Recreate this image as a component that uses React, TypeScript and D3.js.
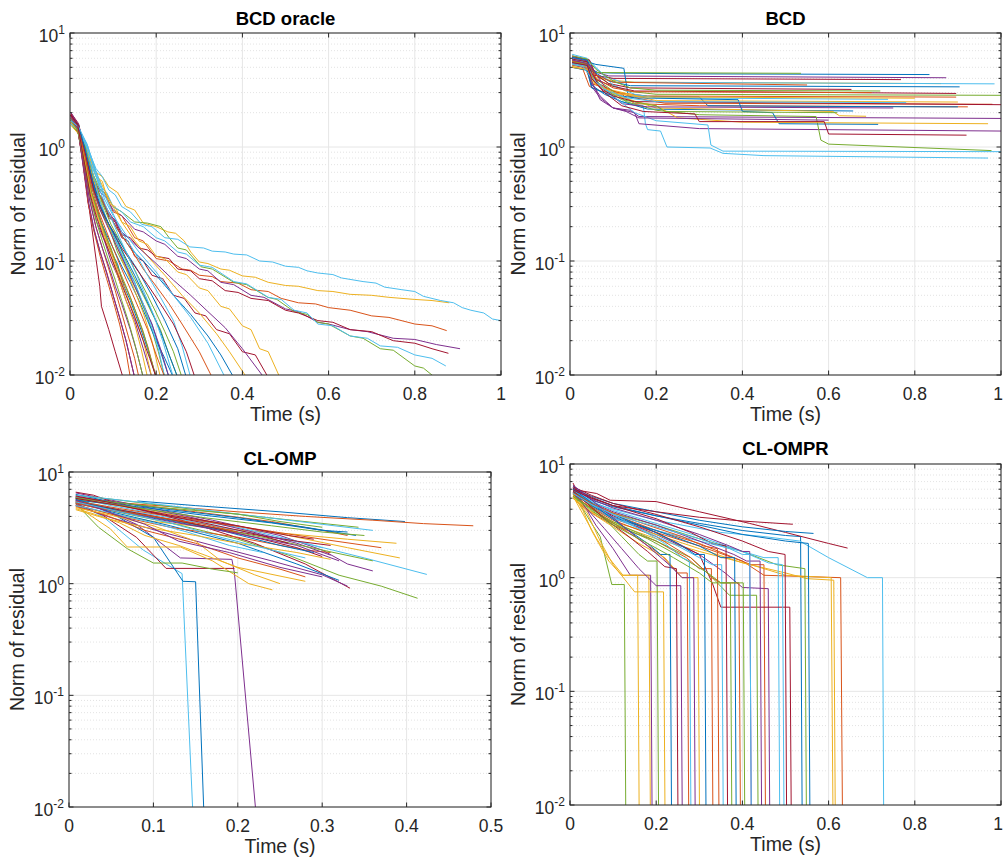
import React from 'react';
import * as d3 from 'd3';

const COLORS = ['#0072BD', '#D95319', '#EDB120', '#7E2F8E', '#77AC30', '#4DBEEE', '#A2142F'];
const FONT = '"Liberation Sans", Arial, Helvetica, sans-serif';

const panelTitles = ['BCD oracle', 'BCD', 'CL-OMP', 'CL-OMPR'];
const xTicksUnit = [0, 0.2, 0.4, 0.6, 0.8, 1];
const xTicksHalf = [0, 0.1, 0.2, 0.3, 0.4, 0.5];
const yDecades = [-2, -1, 0, 1];
const xLabel = 'Time (s)';
const yLabel = 'Norm of residual';

// ---- BCD oracle: [time, residual] per run ----
const bcdOracleRuns: number[][][] = [
  [[0.002,1.85],[0.018,1.5],[0.032,0.9],[0.048,0.42],[0.065,0.27],[0.08,0.17],[0.095,0.12],[0.11,0.095],[0.125,0.06],[0.14,0.045],[0.16,0.028],[0.18,0.017],[0.2,0.0095]],
  [[0.002,1.9],[0.02,1.5],[0.04,0.8],[0.06,0.45],[0.08,0.4],[0.1,0.27],[0.12,0.25],[0.15,0.16],[0.17,0.15],[0.2,0.105],[0.23,0.1],[0.26,0.085],[0.28,0.083],[0.3,0.075],[0.33,0.073],[0.35,0.066],[0.39,0.064],[0.42,0.056],[0.46,0.054],[0.49,0.047],[0.53,0.043],[0.57,0.042],[0.6,0.039],[0.65,0.037],[0.7,0.033],[0.74,0.032],[0.8,0.028],[0.84,0.027],[0.874,0.0245]],
  [[0.002,1.7],[0.02,1.45],[0.04,0.9],[0.06,0.6],[0.075,0.55],[0.09,0.45],[0.11,0.4],[0.13,0.3],[0.15,0.28],[0.17,0.215],[0.2,0.2],[0.227,0.18],[0.245,0.175],[0.265,0.15],[0.28,0.12],[0.3,0.098],[0.32,0.095],[0.35,0.085],[0.37,0.083],[0.4,0.074],[0.43,0.072],[0.46,0.065],[0.5,0.061],[0.53,0.06],[0.575,0.055],[0.61,0.054],[0.65,0.051],[0.7,0.05],[0.74,0.048],[0.8,0.046],[0.84,0.045],[0.88,0.043]],
  [[0.002,1.8],[0.02,1.4],[0.04,0.7],[0.07,0.4],[0.085,0.36],[0.1,0.28],[0.12,0.25],[0.15,0.19],[0.17,0.18],[0.2,0.15],[0.22,0.14],[0.25,0.11],[0.27,0.105],[0.3,0.085],[0.32,0.082],[0.35,0.065],[0.38,0.062],[0.42,0.05],[0.45,0.048],[0.5,0.038],[0.53,0.036],[0.575,0.029],[0.6,0.028],[0.65,0.025],[0.69,0.024],[0.75,0.021],[0.8,0.0205],[0.85,0.0185],[0.905,0.017]],
  [[0.002,1.6],[0.02,1.3],[0.04,0.75],[0.07,0.42],[0.085,0.38],[0.1,0.3],[0.12,0.27],[0.15,0.22],[0.18,0.215],[0.211,0.2],[0.23,0.16],[0.25,0.13],[0.27,0.125],[0.304,0.089],[0.33,0.085],[0.38,0.065],[0.41,0.062],[0.459,0.048],[0.48,0.046],[0.52,0.036],[0.55,0.034],[0.575,0.029],[0.6,0.028],[0.65,0.022],[0.68,0.021],[0.72,0.017],[0.75,0.0165],[0.8,0.012],[0.82,0.0115],[0.847,0.0095]],
  [[0.002,1.8],[0.02,1.5],[0.04,1.0],[0.06,0.65],[0.075,0.55],[0.09,0.42],[0.105,0.38],[0.12,0.3],[0.14,0.27],[0.166,0.21],[0.19,0.2],[0.22,0.16],[0.25,0.155],[0.278,0.133],[0.31,0.13],[0.33,0.122],[0.36,0.12],[0.38,0.115],[0.41,0.113],[0.44,0.1],[0.47,0.098],[0.5,0.09],[0.53,0.088],[0.55,0.082],[0.575,0.0785],[0.61,0.076],[0.63,0.071],[0.68,0.066],[0.71,0.064],[0.73,0.059],[0.77,0.056],[0.8,0.054],[0.82,0.049],[0.86,0.045],[0.89,0.043],[0.91,0.039],[0.93,0.037],[0.96,0.035],[0.98,0.031],[1.0,0.03]],
  [[0.002,1.95],[0.02,1.5],[0.04,0.7],[0.06,0.4],[0.075,0.35],[0.09,0.25],[0.105,0.23],[0.12,0.17],[0.14,0.16],[0.16,0.13],[0.18,0.125],[0.2,0.11],[0.23,0.105],[0.25,0.085],[0.28,0.082],[0.3,0.07],[0.33,0.067],[0.36,0.055],[0.39,0.053],[0.42,0.047],[0.46,0.045],[0.5,0.037],[0.53,0.035],[0.575,0.03],[0.61,0.029],[0.65,0.025],[0.7,0.024],[0.75,0.02],[0.8,0.019],[0.84,0.017],[0.878,0.0155]],
  [[0.002,1.7],[0.018,1.45],[0.032,1.0],[0.05,0.5],[0.07,0.3],[0.09,0.2],[0.11,0.14],[0.13,0.09],[0.15,0.065],[0.17,0.04],[0.19,0.028],[0.21,0.016],[0.23,0.0095]],
  [[0.002,1.9],[0.018,1.5],[0.03,0.8],[0.045,0.35],[0.06,0.2],[0.075,0.13],[0.09,0.085],[0.105,0.055],[0.12,0.035],[0.135,0.022],[0.15,0.014],[0.16,0.0095]],
  [[0.002,1.75],[0.02,1.45],[0.04,0.9],[0.06,0.55],[0.075,0.5],[0.09,0.32],[0.105,0.3],[0.12,0.22],[0.14,0.2],[0.16,0.15],[0.18,0.14],[0.2,0.11],[0.22,0.105],[0.25,0.08],[0.27,0.076],[0.3,0.058],[0.32,0.055],[0.35,0.04],[0.37,0.038],[0.4,0.027],[0.42,0.025],[0.44,0.017],[0.46,0.016],[0.487,0.0095]],
  [[0.002,1.8],[0.018,1.4],[0.032,0.7],[0.048,0.35],[0.062,0.22],[0.08,0.15],[0.095,0.1],[0.11,0.075],[0.13,0.045],[0.15,0.03],[0.17,0.017],[0.19,0.0095]],
  [[0.002,1.6],[0.018,1.35],[0.035,0.8],[0.05,0.45],[0.07,0.28],[0.09,0.2],[0.11,0.12],[0.13,0.085],[0.15,0.06],[0.17,0.04],[0.19,0.025],[0.205,0.016],[0.22,0.0095]],
  [[0.002,1.75],[0.02,1.45],[0.04,0.85],[0.07,0.45],[0.085,0.4],[0.1,0.3],[0.12,0.27],[0.14,0.22],[0.17,0.2],[0.2,0.16],[0.22,0.15],[0.25,0.12],[0.27,0.115],[0.3,0.092],[0.33,0.088],[0.38,0.066],[0.41,0.063],[0.46,0.048],[0.49,0.046],[0.52,0.037],[0.55,0.035],[0.575,0.028],[0.61,0.027],[0.65,0.022],[0.69,0.021],[0.72,0.018],[0.76,0.0175],[0.8,0.015],[0.84,0.014],[0.872,0.012]],
  [[0.002,2.0],[0.02,1.6],[0.04,0.75],[0.06,0.4],[0.075,0.36],[0.09,0.24],[0.105,0.22],[0.12,0.16],[0.135,0.15],[0.15,0.11],[0.17,0.1],[0.19,0.075],[0.215,0.07],[0.24,0.05],[0.265,0.047],[0.29,0.035],[0.315,0.033],[0.34,0.025],[0.37,0.023],[0.4,0.016],[0.43,0.015],[0.46,0.0095]],
  [[0.002,1.8],[0.02,1.5],[0.04,0.85],[0.06,0.45],[0.08,0.3],[0.11,0.19],[0.14,0.13],[0.17,0.1],[0.2,0.075],[0.24,0.05],[0.28,0.034],[0.32,0.022],[0.35,0.015],[0.38,0.0095]],
  [[0.002,1.65],[0.018,1.4],[0.035,0.75],[0.05,0.4],[0.068,0.25],[0.085,0.16],[0.1,0.11],[0.12,0.07],[0.14,0.048],[0.16,0.03],[0.18,0.018],[0.2,0.0095]],
  [[0.002,1.7],[0.02,1.4],[0.04,0.95],[0.065,0.55],[0.09,0.35],[0.12,0.22],[0.15,0.15],[0.18,0.11],[0.22,0.075],[0.26,0.05],[0.3,0.035],[0.34,0.023],[0.37,0.016],[0.41,0.0095]],
  [[0.002,1.9],[0.02,1.55],[0.04,0.8],[0.06,0.42],[0.09,0.27],[0.12,0.18],[0.16,0.13],[0.2,0.095],[0.24,0.068],[0.28,0.05],[0.32,0.036],[0.36,0.026],[0.4,0.017],[0.45,0.0095]],
  [[0.002,1.75],[0.018,1.5],[0.035,0.9],[0.05,0.5],[0.07,0.3],[0.09,0.2],[0.11,0.15],[0.13,0.1],[0.15,0.07],[0.17,0.05],[0.19,0.035],[0.21,0.025],[0.23,0.015],[0.25,0.0095]],
  [[0.002,1.6],[0.02,1.4],[0.04,1.0],[0.06,0.6],[0.08,0.35],[0.1,0.25],[0.13,0.17],[0.16,0.12],[0.2,0.08],[0.24,0.05],[0.28,0.032],[0.32,0.019],[0.36,0.0095]],
  [[0.002,1.9],[0.02,1.3],[0.035,0.55],[0.045,0.28],[0.061,0.1],[0.069,0.06],[0.073,0.04],[0.09,0.025],[0.105,0.016],[0.123,0.0095]],
  [[0.002,1.9],[0.018,1.6],[0.032,0.85],[0.048,0.4],[0.065,0.25],[0.085,0.17],[0.1,0.13],[0.12,0.09],[0.14,0.065],[0.16,0.045],[0.18,0.03],[0.2,0.02],[0.22,0.014],[0.24,0.0095]],
  [[0.002,1.85],[0.02,1.5],[0.04,0.8],[0.06,0.45],[0.085,0.28],[0.11,0.19],[0.14,0.13],[0.17,0.085],[0.2,0.06],[0.23,0.042],[0.26,0.028],[0.3,0.016],[0.33,0.0095]],
  [[0.002,1.55],[0.02,1.3],[0.038,0.9],[0.055,0.5],[0.075,0.3],[0.09,0.2],[0.11,0.13],[0.13,0.085],[0.15,0.055],[0.17,0.035],[0.19,0.02],[0.21,0.0095]],
  [[0.002,2.0],[0.018,1.6],[0.03,0.8],[0.045,0.35],[0.06,0.2],[0.075,0.13],[0.09,0.09],[0.105,0.06],[0.12,0.042],[0.14,0.025],[0.155,0.016],[0.17,0.0095]],
  [[0.002,1.7],[0.02,1.45],[0.038,0.95],[0.055,0.55],[0.075,0.32],[0.095,0.21],[0.12,0.14],[0.14,0.1],[0.16,0.07],[0.18,0.05],[0.2,0.035],[0.22,0.024],[0.24,0.016],[0.26,0.0095]],
  [[0.002,1.65],[0.02,1.45],[0.04,1.05],[0.06,0.62],[0.08,0.38],[0.1,0.26],[0.12,0.18],[0.15,0.12],[0.18,0.075],[0.21,0.048],[0.24,0.03],[0.26,0.018],[0.28,0.0095]],
  [[0.002,1.95],[0.018,1.5],[0.03,0.7],[0.042,0.32],[0.055,0.19],[0.07,0.12],[0.085,0.08],[0.1,0.05],[0.115,0.032],[0.13,0.02],[0.15,0.0095]],
  [[0.002,1.8],[0.02,1.55],[0.036,0.9],[0.052,0.48],[0.07,0.3],[0.09,0.21],[0.11,0.16],[0.13,0.12],[0.16,0.08],[0.19,0.05],[0.22,0.03],[0.25,0.017],[0.27,0.0095]],
  [[0.002,1.7],[0.018,1.4],[0.03,0.75],[0.042,0.33],[0.056,0.18],[0.07,0.11],[0.085,0.07],[0.1,0.045],[0.115,0.028],[0.13,0.016],[0.14,0.0095]],
  [[0.002,1.8],[0.018,1.5],[0.032,0.85],[0.047,0.42],[0.062,0.25],[0.08,0.16],[0.095,0.11],[0.11,0.075],[0.13,0.045],[0.15,0.028],[0.165,0.017],[0.18,0.0095]],
  [[0.002,1.7],[0.02,1.45],[0.036,0.85],[0.052,0.45],[0.07,0.28],[0.09,0.19],[0.11,0.13],[0.13,0.09],[0.15,0.06],[0.17,0.042],[0.19,0.028],[0.21,0.017],[0.23,0.0095]],
  [[0.002,1.85],[0.018,1.5],[0.033,0.8],[0.05,0.4],[0.065,0.26],[0.08,0.18],[0.095,0.13],[0.11,0.09],[0.13,0.06],[0.15,0.038],[0.17,0.024],[0.185,0.015],[0.2,0.0095]],
  [[0.002,1.6],[0.02,1.4],[0.038,1.0],[0.055,0.55],[0.07,0.33],[0.09,0.21],[0.11,0.14],[0.13,0.095],[0.15,0.065],[0.17,0.042],[0.19,0.026],[0.205,0.017],[0.22,0.0095]],
  [[0.002,1.9],[0.02,1.55],[0.038,0.8],[0.055,0.42],[0.075,0.27],[0.1,0.18],[0.12,0.13],[0.15,0.09],[0.18,0.062],[0.21,0.042],[0.24,0.028],[0.27,0.016],[0.29,0.0095]],
  [[0.002,1.75],[0.02,1.5],[0.037,0.9],[0.053,0.5],[0.07,0.31],[0.09,0.21],[0.11,0.15],[0.13,0.105],[0.15,0.075],[0.17,0.052],[0.19,0.036],[0.21,0.024],[0.23,0.015],[0.25,0.0095]],
  [[0.002,1.8],[0.018,1.5],[0.034,0.85],[0.05,0.44],[0.067,0.27],[0.085,0.18],[0.1,0.13],[0.12,0.085],[0.14,0.057],[0.16,0.038],[0.18,0.025],[0.2,0.015],[0.22,0.0095]],
  [[0.002,1.65],[0.018,1.4],[0.033,0.8],[0.048,0.4],[0.064,0.25],[0.08,0.17],[0.095,0.12],[0.11,0.082],[0.13,0.052],[0.15,0.033],[0.17,0.02],[0.19,0.0095]],
  [[0.002,1.85],[0.018,1.45],[0.03,0.72],[0.043,0.33],[0.056,0.19],[0.07,0.12],[0.085,0.078],[0.1,0.05],[0.115,0.032],[0.13,0.02],[0.15,0.0095]],
  [[0.002,1.7],[0.018,1.4],[0.032,0.78],[0.046,0.38],[0.06,0.23],[0.075,0.15],[0.09,0.1],[0.105,0.068],[0.12,0.045],[0.135,0.03],[0.15,0.019],[0.17,0.0095]],
  [[0.002,1.7],[0.02,1.5],[0.04,1.05],[0.058,0.6],[0.075,0.36],[0.095,0.24],[0.115,0.16],[0.135,0.11],[0.155,0.075],[0.175,0.05],[0.195,0.033],[0.215,0.02],[0.24,0.0095]],
  [[0.002,1.9],[0.018,1.55],[0.032,0.78],[0.047,0.38],[0.062,0.24],[0.078,0.16],[0.095,0.11],[0.11,0.078],[0.13,0.05],[0.15,0.032],[0.17,0.02],[0.185,0.014],[0.2,0.0095]],
];

// ---- BCD ----
const bcdRuns: number[][][] = [
  [[0.005,6.0],[0.04,5.6],[0.05,4.8],[0.065,4.5],[0.1,4.45],[0.3,4.38],[0.834,4.32]],
  [[0.005,5.0],[0.03,4.8],[0.045,3.4],[0.07,3.1],[0.12,2.9],[0.15,2.4],[0.3,2.3],[0.923,2.25]],
  [[0.005,5.5],[0.04,5.2],[0.05,4.2],[0.08,3.9],[0.15,3.7],[0.861,3.6]],
  [[0.005,6.3],[0.045,5.8],[0.055,4.6],[0.09,4.2],[0.873,4.05]],
  [[0.005,5.8],[0.04,5.3],[0.055,4.5],[0.536,4.43]],
  [[0.005,6.5],[0.04,6.0],[0.06,5.0],[0.08,4.2],[0.12,3.7],[0.985,3.58]],
  [[0.005,5.7],[0.04,5.4],[0.05,4.3],[0.1,4.0],[0.768,3.9]],
  [[0.005,5.9],[0.04,5.6],[0.06,5.3],[0.125,4.9],[0.135,2.8],[0.3,2.75],[0.32,2.3],[0.7,2.26],[0.9,2.25]],
  [[0.005,5.2],[0.035,5.0],[0.05,3.6],[0.08,3.3],[0.11,3.0],[0.18,2.8],[0.896,2.74]],
  [[0.005,5.6],[0.04,5.2],[0.05,3.8],[0.09,3.2],[0.14,2.9],[0.2,2.55],[0.9,2.48]],
  [[0.005,5.4],[0.04,5.0],[0.05,3.6],[0.07,2.8],[0.1,2.2],[0.14,2.1],[0.16,1.85],[1.0,1.78]],
  [[0.005,6.0],[0.04,5.5],[0.055,4.5],[0.09,3.6],[0.13,3.1],[0.2,2.9],[1.0,2.84]],
  [[0.005,6.0],[0.03,5.6],[0.05,4.2],[0.08,3.0],[0.12,2.5],[0.17,2.3],[0.175,1.6],[0.18,1.42],[0.21,1.38],[0.225,1.0],[0.325,0.98],[0.355,0.88],[0.45,0.84],[0.97,0.8]],
  [[0.005,6.2],[0.045,5.8],[0.06,4.3],[0.09,3.6],[0.14,3.3],[0.653,3.2]],
  [[0.005,5.5],[0.04,5.2],[0.05,3.5],[0.08,2.9],[0.12,2.5],[0.18,2.15],[0.657,2.07]],
  [[0.005,5.3],[0.045,4.9],[0.055,3.8],[0.1,3.1],[0.15,2.7],[0.22,2.42],[0.98,2.37]],
  [[0.005,5.1],[0.04,4.8],[0.05,3.7],[0.1,3.0],[0.14,2.6],[0.2,2.2],[0.61,2.05],[0.625,1.88],[0.687,1.86]],
  [[0.005,5.3],[0.04,4.9],[0.05,3.4],[0.07,2.7],[0.1,2.2],[0.15,2.0],[0.16,1.6],[0.3,1.45],[1.0,1.38]],
  [[0.005,5.7],[0.04,5.3],[0.05,4.2],[0.09,3.3],[0.13,2.5],[0.2,2.1],[0.3,1.92],[0.571,1.85],[0.582,1.15],[0.6,1.06],[0.978,0.93]],
  [[0.005,5.9],[0.04,5.7],[0.07,4.6],[0.1,3.5],[0.15,2.9],[0.2,2.7],[0.738,2.62]],
  [[0.005,5.4],[0.05,5.0],[0.06,3.9],[0.1,3.4],[0.15,3.1],[0.896,2.95]],
  [[0.005,5.0],[0.04,4.7],[0.05,3.3],[0.09,2.9],[0.15,2.7],[0.39,2.6],[0.4,2.05],[0.47,2.0],[0.485,1.6],[0.715,1.58]],
  [[0.005,5.6],[0.04,5.3],[0.06,4.0],[0.1,3.3],[0.15,3.05],[0.7,3.0]],
  [[0.005,5.3],[0.04,5.0],[0.05,3.9],[0.09,3.0],[0.15,2.5],[0.2,2.3],[0.25,1.8],[0.4,1.65],[0.97,1.6]],
  [[0.005,6.1],[0.04,5.7],[0.06,4.4],[0.09,3.0],[0.12,2.4],[0.18,2.25],[0.75,2.2]],
  [[0.005,5.6],[0.04,5.3],[0.05,4.3],[0.08,3.2],[0.12,2.6],[0.2,2.3],[0.22,2.05],[0.62,2.0]],
  [[0.005,5.4],[0.04,5.1],[0.06,3.8],[0.1,2.8],[0.15,2.0],[0.2,1.7],[0.32,1.56],[0.327,1.04],[0.355,0.92],[1.0,0.91]],
  [[0.005,5.9],[0.04,5.6],[0.05,4.5],[0.07,3.3],[0.1,2.8],[0.15,2.5],[1.0,2.35]],
  [[0.005,6.1],[0.04,5.8],[0.05,4.7],[0.09,3.8],[0.14,3.45],[0.904,3.37]],
  [[0.005,5.7],[0.04,5.4],[0.06,4.3],[0.1,3.7],[0.55,3.5]],
  [[0.005,5.0],[0.04,4.8],[0.06,3.6],[0.1,3.0],[0.16,2.75],[0.8,2.68]],
  [[0.005,5.8],[0.04,5.4],[0.05,3.8],[0.07,2.6],[0.1,2.2],[0.13,2.05],[0.16,1.8],[0.6,1.72]],
  [[0.005,6.3],[0.04,5.9],[0.06,4.8],[0.1,3.8],[0.14,3.3],[0.2,3.15],[0.72,3.1]],
  [[0.005,5.3],[0.03,5.1],[0.05,4.0],[0.08,3.2],[0.13,2.7],[0.2,2.5],[0.78,2.45]],
  [[0.005,5.5],[0.04,5.2],[0.05,4.0],[0.08,3.0],[0.12,2.3],[0.17,2.05],[0.29,1.95],[0.3,1.67],[0.59,1.67],[0.6,1.3],[0.92,1.27]],
];

// ---- CL-OMP ----
const clOmpRuns: number[][][] = [
  [[0.081,5.5],[0.15,5.0],[0.25,4.4],[0.33,3.9],[0.398,3.6]],
  [[0.008,5.8],[0.06,5.3],[0.12,4.9],[0.2,4.4],[0.28,4.0],[0.36,3.7],[0.42,3.45],[0.479,3.3]],
  [[0.008,5.0],[0.05,4.2],[0.1,3.6],[0.18,3.1],[0.26,2.8],[0.33,2.5],[0.388,2.3]],
  [[0.008,5.8],[0.04,4.6],[0.08,3.4],[0.132,1.7],[0.193,1.65],[0.196,1.25],[0.222,0.008]],
  [[0.008,5.6],[0.05,4.5],[0.12,3.5],[0.2,2.5],[0.26,1.8],[0.32,1.19],[0.37,0.95],[0.413,0.74]],
  [[0.008,5.3],[0.04,4.0],[0.088,2.0],[0.134,1.23],[0.147,0.008]],
  [[0.008,5.2],[0.04,4.1],[0.08,2.6],[0.115,1.37],[0.196,1.37]],
  [[0.008,5.9],[0.05,4.3],[0.1,2.6],[0.135,1.05],[0.15,1.04],[0.16,0.008]],
  [[0.008,6.0],[0.07,5.2],[0.15,4.4],[0.24,3.6],[0.3,3.0],[0.33,2.7]],
  [[0.008,5.3],[0.019,4.4],[0.049,3.1],[0.069,2.13],[0.132,2.13],[0.17,1.6],[0.213,1.0],[0.241,0.88]],
  [[0.008,6.5],[0.05,5.6],[0.1,4.7],[0.17,3.7],[0.25,2.7],[0.3,2.0],[0.33,1.5],[0.36,1.3]],
  [[0.008,5.2],[0.035,3.2],[0.069,2.06],[0.1,1.53],[0.134,1.53],[0.17,1.35],[0.2,1.25]],
  [[0.008,5.6],[0.06,4.6],[0.13,3.8],[0.2,3.0],[0.28,2.3],[0.35,1.7],[0.424,1.21]],
  [[0.008,6.6],[0.029,6.2],[0.045,5.6],[0.08,4.8],[0.15,3.4],[0.22,2.3],[0.28,1.5],[0.333,0.91]],
  [[0.008,5.4],[0.05,4.4],[0.12,3.3],[0.2,2.3],[0.27,1.5],[0.32,1.07]],
  [[0.008,5.1],[0.06,4.0],[0.12,3.2],[0.2,2.6],[0.28,2.0],[0.31,1.9]],
  [[0.008,5.7],[0.08,4.7],[0.16,3.7],[0.25,2.8],[0.33,2.1],[0.392,1.7]],
  [[0.008,5.0],[0.05,3.9],[0.11,2.9],[0.18,2.1],[0.24,1.6],[0.3,1.2],[0.33,0.95]],
  [[0.008,6.2],[0.06,5.6],[0.15,4.6],[0.25,3.8],[0.343,3.2]],
  [[0.008,5.9],[0.05,5.0],[0.12,4.0],[0.2,3.2],[0.26,2.5],[0.3,2.1]],
  [[0.008,5.5],[0.06,4.5],[0.13,3.6],[0.2,2.9],[0.27,2.4],[0.31,2.2]],
  [[0.008,6.3],[0.05,5.4],[0.12,4.6],[0.2,3.9],[0.28,3.2],[0.34,2.7]],
  [[0.008,4.9],[0.04,4.2],[0.09,3.0],[0.15,2.3],[0.2,1.7],[0.25,1.35],[0.28,1.15]],
  [[0.008,4.7],[0.03,4.2],[0.06,3.5],[0.09,2.7],[0.13,2.2],[0.17,1.7],[0.2,1.4],[0.28,1.05]],
  [[0.008,6.0],[0.07,5.0],[0.14,4.0],[0.21,3.0],[0.27,2.3],[0.31,1.8]],
  [[0.008,5.3],[0.07,4.4],[0.15,3.4],[0.23,2.6],[0.3,2.0],[0.36,1.6]],
  [[0.008,6.2],[0.1,5.2],[0.2,4.2],[0.3,3.4],[0.36,3.0]],
  [[0.008,5.4],[0.08,4.3],[0.16,3.3],[0.22,2.6],[0.27,2.1],[0.3,1.75]],
  [[0.008,5.7],[0.04,4.8],[0.1,3.9],[0.18,3.0],[0.25,2.2],[0.29,1.9]],
  [[0.008,5.5],[0.06,4.7],[0.14,3.8],[0.22,3.1],[0.3,2.5],[0.37,2.1]],
  [[0.008,4.8],[0.05,4.1],[0.1,3.3],[0.15,2.4],[0.18,1.6],[0.22,1.2],[0.25,1.0]],
  [[0.008,5.2],[0.06,4.4],[0.12,3.6],[0.2,2.8],[0.27,2.2],[0.32,1.6]],
  [[0.008,5.9],[0.03,5.6],[0.069,5.2],[0.11,4.8],[0.2,4.2],[0.25,3.6],[0.3,3.2]],
  [[0.008,5.0],[0.05,4.3],[0.1,3.5],[0.14,2.9],[0.19,2.2],[0.23,1.9]],
  [[0.008,6.1],[0.05,5.3],[0.1,4.3],[0.16,3.5],[0.22,2.8],[0.26,2.3]],
  [[0.008,5.6],[0.08,4.9],[0.16,4.1],[0.24,3.5],[0.3,3.0],[0.33,2.9]],
  [[0.008,5.3],[0.03,4.8],[0.1,4.0],[0.16,3.4],[0.2,2.9]],
  [[0.008,4.6],[0.04,3.9],[0.09,3.2],[0.15,2.7],[0.2,2.3],[0.27,1.9],[0.31,1.65]],
  [[0.008,5.6],[0.05,4.3],[0.09,3.4],[0.13,2.4],[0.19,1.9],[0.25,1.4],[0.3,1.15]],
  [[0.008,5.8],[0.08,4.8],[0.16,3.9],[0.24,3.3],[0.3,2.9],[0.35,2.7]],
  [[0.008,5.4],[0.06,4.4],[0.12,3.5],[0.18,2.6],[0.24,2.0],[0.28,1.7]],
  [[0.008,5.8],[0.06,5.0],[0.12,4.1],[0.2,3.3],[0.26,2.7],[0.29,2.5]],
];

// ---- CL-OMPR ----
const clOmprRuns: number[][][] = [
  [[0.007,6.2],[0.05,4.8],[0.1,4.2],[0.2,3.5],[0.3,3.0],[0.4,2.6],[0.5,2.35],[0.535,2.3],[0.54,0.001]],
  [[0.007,5.6],[0.05,4.2],[0.1,3.3],[0.2,2.5],[0.3,1.9],[0.4,1.4],[0.45,1.05],[0.628,1.0],[0.634,0.001]],
  [[0.007,5.3],[0.04,4.0],[0.1,3.0],[0.2,2.2],[0.3,1.7],[0.42,1.3],[0.5,1.05],[0.606,1.0],[0.612,0.001]],
  [[0.007,5.9],[0.05,4.3],[0.1,3.4],[0.2,2.4],[0.3,1.6],[0.36,1.1],[0.4,0.82],[0.46,0.8],[0.465,0.001]],
  [[0.007,5.5],[0.03,4.0],[0.05,3.0],[0.07,2.3],[0.097,0.87],[0.126,0.87],[0.131,0.001]],
  [[0.007,5.8],[0.05,4.6],[0.1,4.0],[0.2,3.2],[0.35,2.5],[0.45,2.3],[0.533,2.1],[0.6,1.5],[0.69,1.0],[0.725,1.0],[0.729,0.001]],
  [[0.007,6.8],[0.015,5.9],[0.062,5.5],[0.093,4.8],[0.2,4.67],[0.3,3.8],[0.417,3.0],[0.5,2.5],[0.6,2.0],[0.644,1.82]],
  [[0.007,6.0],[0.05,5.2],[0.1,4.5],[0.2,3.8],[0.3,3.2],[0.4,2.8],[0.5,2.55],[0.565,2.45]],
  [[0.007,5.4],[0.05,4.4],[0.1,3.6],[0.2,2.6],[0.3,2.0],[0.38,1.5],[0.42,1.3],[0.45,1.3],[0.455,0.001]],
  [[0.007,5.0],[0.05,3.8],[0.1,3.1],[0.2,2.4],[0.3,1.8],[0.4,1.35],[0.5,1.1],[0.55,0.98],[0.612,0.95],[0.617,0.001]],
  [[0.007,6.2],[0.03,4.5],[0.06,2.9],[0.1,1.8],[0.14,1.05],[0.187,1.05],[0.192,0.001]],
  [[0.007,5.7],[0.05,4.5],[0.1,3.7],[0.2,2.9],[0.3,2.2],[0.4,1.7],[0.48,1.3],[0.545,1.2],[0.55,0.001]],
  [[0.007,5.2],[0.05,4.1],[0.1,3.3],[0.2,2.6],[0.3,2.1],[0.4,1.7],[0.45,1.5],[0.483,1.5],[0.488,0.001]],
  [[0.007,5.6],[0.05,4.4],[0.1,3.5],[0.2,2.5],[0.3,1.6],[0.33,0.9],[0.35,0.55],[0.51,0.55],[0.515,0.001]],
  [[0.007,6.4],[0.05,5.0],[0.1,4.3],[0.2,3.5],[0.3,2.9],[0.4,2.4],[0.5,2.1],[0.553,2.0],[0.558,0.001]],
  [[0.007,5.0],[0.04,3.9],[0.1,2.9],[0.2,2.1],[0.27,1.5],[0.3,1.2],[0.328,1.2],[0.333,0.001]],
  [[0.007,5.2],[0.062,2.2],[0.088,1.53],[0.123,1.05],[0.183,1.05],[0.188,0.001]],
  [[0.007,5.8],[0.05,4.6],[0.1,3.8],[0.2,2.9],[0.3,2.1],[0.38,1.6],[0.41,1.4],[0.441,1.4],[0.446,0.001]],
  [[0.007,5.4],[0.05,4.0],[0.1,3.1],[0.2,2.1],[0.28,1.5],[0.33,1.0],[0.37,0.7],[0.433,0.7],[0.438,0.001]],
  [[0.007,6.0],[0.05,4.7],[0.1,3.9],[0.2,3.0],[0.3,2.3],[0.4,1.7],[0.46,1.35],[0.493,1.3],[0.498,0.001]],
  [[0.007,6.3],[0.05,5.3],[0.1,4.5],[0.2,3.6],[0.3,2.8],[0.4,2.1],[0.46,1.7],[0.499,1.6],[0.504,0.001]],
  [[0.007,5.5],[0.05,4.3],[0.1,3.4],[0.2,2.6],[0.3,1.9],[0.35,1.5],[0.382,1.5],[0.387,0.001]],
  [[0.007,5.3],[0.05,4.1],[0.1,3.2],[0.2,2.3],[0.28,1.5],[0.33,1.0],[0.35,0.9],[0.392,0.9],[0.397,0.001]],
  [[0.007,5.1],[0.04,3.7],[0.07,2.1],[0.1,1.3],[0.15,0.75],[0.217,0.75],[0.222,0.001]],
  [[0.007,6.0],[0.05,4.9],[0.1,4.1],[0.2,3.2],[0.3,2.4],[0.37,1.9],[0.4,1.7],[0.417,1.7],[0.422,0.001]],
  [[0.007,5.9],[0.04,4.6],[0.08,3.3],[0.12,2.3],[0.16,1.6],[0.18,1.4],[0.202,1.4],[0.207,0.001]],
  [[0.007,5.6],[0.05,4.4],[0.1,3.4],[0.18,2.5],[0.25,1.9],[0.3,1.5],[0.33,1.3],[0.352,1.3],[0.357,0.001]],
  [[0.007,6.1],[0.05,5.1],[0.1,4.3],[0.2,3.3],[0.28,2.5],[0.33,2.0],[0.362,1.9],[0.367,0.001]],
  [[0.007,5.7],[0.05,4.5],[0.1,3.6],[0.18,2.7],[0.25,2.0],[0.29,1.6],[0.312,1.6],[0.317,0.001]],
  [[0.007,5.4],[0.04,4.3],[0.09,3.2],[0.15,2.3],[0.21,1.6],[0.25,1.1],[0.272,1.1],[0.277,0.001]],
  [[0.007,5.0],[0.05,3.7],[0.1,2.8],[0.16,2.0],[0.22,1.5],[0.26,1.0],[0.297,1.0],[0.302,0.001]],
  [[0.007,5.6],[0.04,4.0],[0.08,2.7],[0.12,1.8],[0.16,1.2],[0.2,0.85],[0.257,0.85],[0.262,0.001]],
  [[0.007,5.3],[0.05,4.0],[0.1,3.0],[0.18,2.2],[0.26,1.5],[0.32,1.1],[0.35,0.9],[0.402,0.9],[0.407,0.001]],
  [[0.007,5.9],[0.05,4.6],[0.1,3.6],[0.16,2.7],[0.22,2.0],[0.26,1.5],[0.277,1.4],[0.282,0.001]],
  [[0.007,5.8],[0.04,4.5],[0.08,3.3],[0.13,2.4],[0.18,1.7],[0.22,1.25],[0.247,1.2],[0.252,0.001]],
  [[0.007,6.0],[0.04,4.9],[0.08,3.7],[0.13,2.7],[0.18,2.0],[0.21,1.6],[0.232,1.6],[0.237,0.001]],
  [[0.007,5.6],[0.05,4.5],[0.1,3.7],[0.18,2.9],[0.26,2.3],[0.31,1.9],[0.342,1.8],[0.347,0.001]],
  [[0.007,5.4],[0.03,3.9],[0.05,2.6],[0.07,1.9],[0.09,1.4],[0.12,1.05],[0.157,1.05],[0.162,0.001]],
  [[0.007,6.5],[0.04,5.2],[0.08,3.9],[0.13,2.7],[0.18,1.9],[0.23,1.3],[0.26,1.0],[0.287,1.0],[0.292,0.001]],
  [[0.007,5.2],[0.05,3.9],[0.1,2.9],[0.17,2.1],[0.24,1.5],[0.3,1.1],[0.33,0.9],[0.372,0.9],[0.377,0.001]],
  [[0.007,5.5],[0.05,4.4],[0.1,3.6],[0.2,2.8],[0.3,2.2],[0.37,1.8],[0.4,1.6],[0.417,1.6],[0.422,0.001]],
  [[0.007,5.9],[0.05,5.0],[0.1,4.3],[0.2,3.8],[0.3,3.4],[0.4,3.15],[0.517,2.95]],
];

const panelRuns = [bcdOracleRuns, bcdRuns, clOmpRuns, clOmprRuns];
const panelXTicks = [xTicksUnit, xTicksUnit, xTicksHalf, xTicksUnit];

const LAYOUT = [
  { left: 70, top: 33, right: 501, bottom: 375, titleY: 25 },
  { left: 570, top: 33, right: 1001, bottom: 375, titleY: 25 },
  { left: 69, top: 472, right: 491, bottom: 807, titleY: 465 },
  { left: 570, top: 464, right: 1001, bottom: 805, titleY: 455 },
];

const AXIS = '#262626';
const TICK_FS = 17.5;
const LABEL_FS = 19.5;
const TITLE_FS = 18.5;
const SVG_W = 1004;
const SVG_H = 862;

function Panel({ idx }: { idx: number }) {
  const L = LAYOUT[idx];
  const runs = panelRuns[idx];
  const xTicks = panelXTicks[idx];
  const x = d3.scaleLinear().domain([0, xTicks[xTicks.length - 1]]).range([L.left, L.right]);
  const y = d3.scaleLog().domain([1e-2, 1e1]).range([L.bottom, L.top]);
  const line = d3.line<number[]>().x((d) => x(d[0])).y((d) => y(d[1]));
  const minors: number[] = [];
  for (let d = -2; d < 1; d++) for (let m = 2; m <= 9; m++) minors.push(m * Math.pow(10, d));
  const clipId = `clip-${idx}`;
  const cx = (L.left + L.right) / 2;
  const cy = (L.top + L.bottom) / 2;
  return (
    <g>
      <defs>
        <clipPath id={clipId}>
          <rect x={L.left} y={L.top} width={L.right - L.left} height={L.bottom - L.top} />
        </clipPath>
      </defs>
      <rect x={L.left} y={L.top} width={L.right - L.left} height={L.bottom - L.top} fill="#fff" />
      {minors.map((v, i) => (
        <line key={`mg${i}`} x1={L.left} x2={L.right} y1={y(v)} y2={y(v)} stroke="#dcdcdc" strokeWidth={0.8} strokeDasharray="1,2" />
      ))}
      {yDecades.map((d) => (
        <line key={`yg${d}`} x1={L.left} x2={L.right} y1={y(Math.pow(10, d))} y2={y(Math.pow(10, d))} stroke="#e6e6e6" strokeWidth={1} />
      ))}
      {xTicks.map((t) => (
        <line key={`xg${t}`} x1={x(t)} x2={x(t)} y1={L.top} y2={L.bottom} stroke="#e6e6e6" strokeWidth={1} />
      ))}
      <g clipPath={`url(#${clipId})`}>
        {runs.map((r, i) => (
          <path key={`r${i}`} d={line(r) || ''} fill="none" stroke={COLORS[i % COLORS.length]} strokeWidth={1} strokeLinejoin="round" />
        ))}
      </g>
      <rect x={L.left} y={L.top} width={L.right - L.left} height={L.bottom - L.top} fill="none" stroke={AXIS} strokeWidth={1} />
      {xTicks.map((t) => (
        <g key={`xt${t}`}>
          <line x1={x(t)} x2={x(t)} y1={L.bottom} y2={L.bottom - 4.5} stroke={AXIS} />
          <line x1={x(t)} x2={x(t)} y1={L.top} y2={L.top + 4.5} stroke={AXIS} />
          <text x={Math.min(x(t), SVG_W - 6)} y={L.bottom + 24.5} textAnchor="middle" fontSize={TICK_FS} fill={AXIS}>{String(t)}</text>
        </g>
      ))}
      {minors.map((v, i) => (
        <g key={`ym${i}`}>
          <line x1={L.left} x2={L.left + 2.5} y1={y(v)} y2={y(v)} stroke={AXIS} />
          <line x1={L.right} x2={L.right - 2.5} y1={y(v)} y2={y(v)} stroke={AXIS} />
        </g>
      ))}
      {yDecades.map((d) => (
        <g key={`yt${d}`}>
          <line x1={L.left} x2={L.left + 4.5} y1={y(Math.pow(10, d))} y2={y(Math.pow(10, d))} stroke={AXIS} />
          <line x1={L.right} x2={L.right - 4.5} y1={y(Math.pow(10, d))} y2={y(Math.pow(10, d))} stroke={AXIS} />
          <text x={L.left - 5} y={y(Math.pow(10, d)) + 9} textAnchor="end" fontSize={TICK_FS} fill={AXIS}>
            10<tspan dy={-8} fontSize={12}>{String(d)}</tspan>
          </text>
        </g>
      ))}
      <text x={cx} y={L.titleY} textAnchor="middle" fontSize={TITLE_FS} fontWeight="bold" fill="#000">{panelTitles[idx]}</text>
      <text x={cx} y={L.bottom + 46} textAnchor="middle" fontSize={LABEL_FS} fill={AXIS}>{xLabel}</text>
      <text transform={`translate(${L.left - 45},${cy}) rotate(-90)`} textAnchor="middle" fontSize={LABEL_FS} fill={AXIS}>{yLabel}</text>
    </g>
  );
}

export default function App() {
  return (
    <svg width={SVG_W} height={SVG_H} style={{ position: 'absolute', left: 0, top: 0, background: '#fff' }} fontFamily={FONT}>
      <rect x={0} y={0} width={SVG_W} height={SVG_H} fill="#fff" />
      {[0, 1, 2, 3].map((i) => (
        <Panel key={i} idx={i} />
      ))}
    </svg>
  );
}
